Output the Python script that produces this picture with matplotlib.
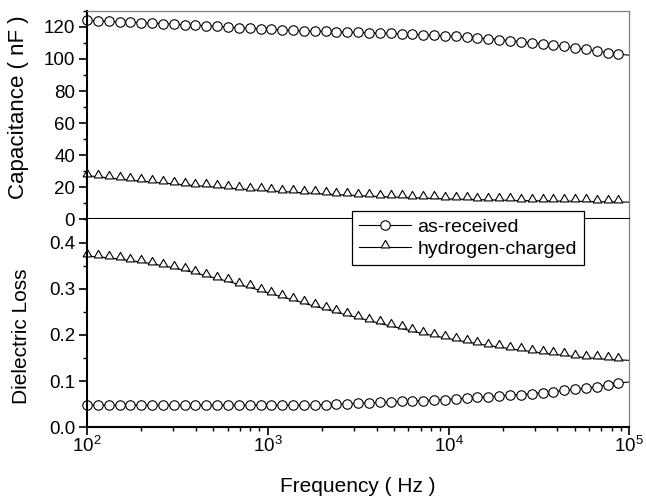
import matplotlib
matplotlib.use("Agg")
import matplotlib.pyplot as plt
from matplotlib.lines import Line2D
from matplotlib.ticker import MultipleLocator, LogLocator, NullFormatter

plt.rcParams["font.family"] = ["Liberation Sans", "DejaVu Sans"]
plt.rcParams["mathtext.fontset"] = "custom"
plt.rcParams["mathtext.rm"] = "Liberation Sans"
plt.rcParams["mathtext.it"] = "Liberation Sans:italic"

# frequency (Hz); last point is drawn as line only
freq = [100, 114.8, 131.8, 151.4, 173.8, 199.5, 229.1, 263.0, 302.0, 346.7,
        398.1, 457.1, 524.8, 602.6, 691.8, 794.3, 912.0, 1047, 1202, 1380,
        1585, 1820, 2089, 2399, 2754, 3162, 3631, 4169, 4786, 5495,
        6310, 7244, 8318, 9550, 10965, 12589, 14454, 16596, 19055, 21878,
        25119, 28840, 33113, 38019, 43652, 50119, 57544, 66069, 75858, 87096,
        100000]

# capacitance (nF)
cap_received = [124.0, 123.7, 123.4, 123.1, 122.9, 122.6, 122.3, 122.0, 121.7, 121.3,
                121.0, 120.6, 120.2, 119.8, 119.4, 119.1, 118.7, 118.4, 118.1, 117.8,
                117.5, 117.3, 117.1, 116.9, 116.7, 116.5, 116.3, 116.1, 115.9, 115.7,
                115.4, 115.1, 114.8, 114.4, 114.0, 113.6, 113.1, 112.6, 112.0, 111.4,
                110.7, 110.1, 109.4, 108.6, 107.8, 106.9, 105.9, 104.9, 103.9, 103.0,
                102.3]
cap_hydrogen = [27.3, 26.6, 25.9, 25.2, 24.5, 23.9, 23.3, 22.7, 22.2, 21.6,
                21.1, 20.6, 20.1, 19.6, 19.1, 18.6, 18.2, 17.8, 17.4, 17.0,
                16.6, 16.2, 15.8, 15.5, 15.2, 14.9, 14.6, 14.3, 14.0, 13.8,
                13.5, 13.3, 13.1, 12.9, 12.7, 12.5, 12.4, 12.2, 12.1, 11.9,
                11.8, 11.7, 11.6, 11.5, 11.4, 11.3, 11.2, 11.1, 11.0, 10.9,
                10.8]

# dielectric loss
loss_received = [0.049, 0.048, 0.048, 0.048, 0.048, 0.048, 0.048, 0.048, 0.048, 0.048,
                 0.048, 0.048, 0.048, 0.048, 0.048, 0.048, 0.048, 0.048, 0.048, 0.048,
                 0.048, 0.049, 0.049, 0.050, 0.051, 0.052, 0.053, 0.054, 0.055, 0.056,
                 0.057, 0.058, 0.059, 0.060, 0.062, 0.063, 0.065, 0.066, 0.068, 0.070,
                 0.071, 0.073, 0.075, 0.077, 0.080, 0.082, 0.085, 0.088, 0.092, 0.096,
                 0.098]
loss_hydrogen = [0.371, 0.369, 0.367, 0.364, 0.361, 0.358, 0.354, 0.350, 0.345, 0.340,
                 0.334, 0.328, 0.322, 0.316, 0.309, 0.303, 0.296, 0.289, 0.282, 0.276,
                 0.269, 0.262, 0.256, 0.249, 0.243, 0.237, 0.231, 0.225, 0.219, 0.214,
                 0.208, 0.203, 0.198, 0.194, 0.189, 0.185, 0.181, 0.177, 0.174, 0.170,
                 0.167, 0.164, 0.161, 0.158, 0.156, 0.153, 0.151, 0.149, 0.147, 0.146,
                 0.145]

labels = ["as-received", "hydrogen-charged"]

# triangle sitting on the line (Origin style)
tri = [(-1, -0.1), (1, -0.1), (0, 1.6), (-1, -0.1)]
circ_style = dict(marker="o", markersize=6.8, markerfacecolor="white",
                  markeredgecolor="black", markeredgewidth=0.8)
tri_style = dict(marker=tri, markersize=10.2, markerfacecolor="white",
                 markeredgecolor="black", markeredgewidth=0.8)
every = slice(0, len(freq) - 1)

fig = plt.figure(figsize=(6.46, 4.96), dpi=100)
ax_top = fig.add_axes([0.1347, 0.5575, 0.8394, 0.4209])
ax_bot = fig.add_axes([0.1347, 0.1385, 0.8394, 0.4190])

ax_top.plot(freq, cap_received, color="black", lw=0.8, markevery=every,
            clip_on=False, **circ_style)
ax_top.plot(freq, cap_hydrogen, color="black", lw=0.8, markevery=every,
            clip_on=False, **tri_style)
ax_bot.plot(freq, loss_received, color="black", lw=0.8, markevery=every,
            clip_on=False, **circ_style)
ax_bot.plot(freq, loss_hydrogen, color="black", lw=0.8, markevery=every,
            clip_on=False, **tri_style)

for ax in (ax_top, ax_bot):
    ax.set_xscale("log")
    ax.set_xlim(100, 1e5)
    ax.xaxis.set_major_locator(LogLocator(base=10))
    ax.xaxis.set_minor_locator(LogLocator(base=10, subs=range(2, 10)))
    ax.xaxis.set_minor_formatter(NullFormatter())
    ax.tick_params(which="major", direction="out", length=5.5, width=1.2,
                   labelsize=13.5, pad=3)
    ax.tick_params(which="minor", direction="out", length=3, width=1.0)
    ax.tick_params(axis="x", which="major", pad=1)
    for s in ("left", "bottom"):
        ax.spines[s].set_linewidth(1.5)
        ax.spines[s].set_color("black")
    for s in ("right", "top"):
        ax.spines[s].set_linewidth(0.9)
        ax.spines[s].set_color("#7f7f7f")

ax_bot.spines["top"].set_visible(False)

ax_top.set_ylim(0, 130)
ax_top.yaxis.set_major_locator(MultipleLocator(20))
ax_top.yaxis.set_minor_locator(MultipleLocator(10))
ax_top.tick_params(axis="x", labelbottom=False)
ax_top.set_ylabel("Capacitance ( nF )", fontsize=16)
ax_top.yaxis.set_label_coords(-0.107, 0.536)

ax_bot.set_ylim(0, 0.45)
ax_bot.yaxis.set_major_locator(MultipleLocator(0.1))
ax_bot.yaxis.set_minor_locator(MultipleLocator(0.05))
ax_bot.set_ylabel("Dielectric Loss", fontsize=15)
ax_bot.yaxis.set_label_coords(-0.104, 0.438)
ax_bot.set_xlabel("Frequency ( Hz )", fontsize=15)
ax_bot.xaxis.set_label_coords(0.5, -0.24)

handles = [Line2D([], [], color="black", lw=0.8, **circ_style),
           Line2D([], [], color="black", lw=0.8, **tri_style)]
leg = fig.legend(handles, labels, loc="upper left",
                 bbox_to_anchor=(0.5444, 0.5746), fontsize=14,
                 frameon=True, fancybox=False, framealpha=1,
                 edgecolor="black", borderaxespad=0, borderpad=0.37,
                 labelspacing=0.23, handlelength=2.7, handletextpad=0.3)
leg.get_frame().set_linewidth(0.9)

fig.savefig("out.png", dpi=100)
